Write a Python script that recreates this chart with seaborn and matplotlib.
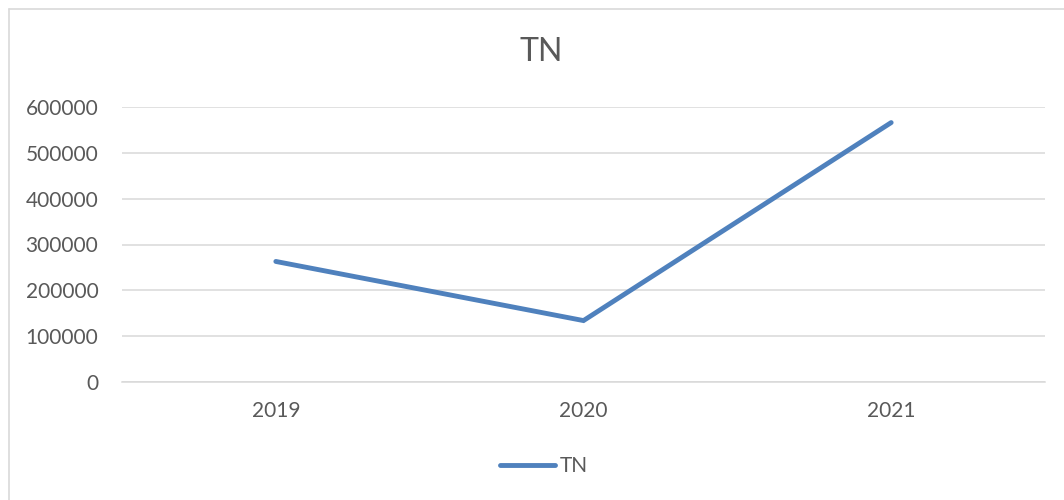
import matplotlib
matplotlib.use("Agg")
import matplotlib.pyplot as plt
from matplotlib.lines import Line2D
import seaborn as sns
import pandas as pd

# Yearly TN totals
years = ["2019", "2020", "2021"]
tn_values = [263000, 134000, 566000]
y_ticks = [0, 100000, 200000, 300000, 400000, 500000, 600000]

df = pd.DataFrame({"year": years, "TN": tn_values})

sns.set_theme(style="white")
plt.rcParams["font.family"] = ["Lato", "DejaVu Sans"]

W, H = 1064, 500
fig = plt.figure(figsize=(W / 100, H / 100), dpi=100)
ax = fig.add_axes([122 / W, 118 / H, (1045 - 122) / W, (382 - 107) / H])

text_color = "#595959"
grid_color = "#D9D9D9"
line_color = "#4F81BD"

sns.lineplot(data=df, x="year", y="TN", ax=ax, color=line_color,
             linewidth=3.5, solid_capstyle="round", solid_joinstyle="miter",
             label="TN", zorder=3)

ax.set_xlim(-0.5, len(years) - 0.5)
ax.set_ylim(y_ticks[0], y_ticks[-1])
ax.set_yticks(y_ticks)
ax.set_yticklabels([str(v) for v in y_ticks])

ax.yaxis.grid(True, color=grid_color, linewidth=1.1)
ax.xaxis.grid(False)
for side in ["top", "right", "left"]:
    ax.spines[side].set_visible(False)
ax.spines["bottom"].set_color(grid_color)
ax.spines["bottom"].set_linewidth(1.1)

ax.tick_params(axis="y", length=0, pad=17, labelsize=15, labelcolor=text_color)
ax.tick_params(axis="x", length=0, pad=14, labelsize=15, labelcolor=text_color)
ax.set_xlabel("")
ax.set_ylabel("")

fig.text(541 / W, 1 - 52 / H, "TN", ha="center", va="center",
         fontsize=23, color=text_color)

leg = ax.legend(loc="center", bbox_to_anchor=(544 / W, 34 / H),
                bbox_transform=fig.transFigure, frameon=False,
                fontsize=15, handlelength=2.65, handletextpad=0.2,
                borderpad=0, borderaxespad=0)
for t in leg.get_texts():
    t.set_color(text_color)

# Chart area outline (left and top edges)
fig.add_artist(Line2D([8.5 / W, 8.5 / W], [0, 1 - 8.5 / H],
                      transform=fig.transFigure, color=grid_color, linewidth=1.2))
fig.add_artist(Line2D([8.5 / W, 1], [1 - 8.5 / H, 1 - 8.5 / H],
                      transform=fig.transFigure, color=grid_color, linewidth=1.2))

fig.savefig("out.png", dpi=100)
